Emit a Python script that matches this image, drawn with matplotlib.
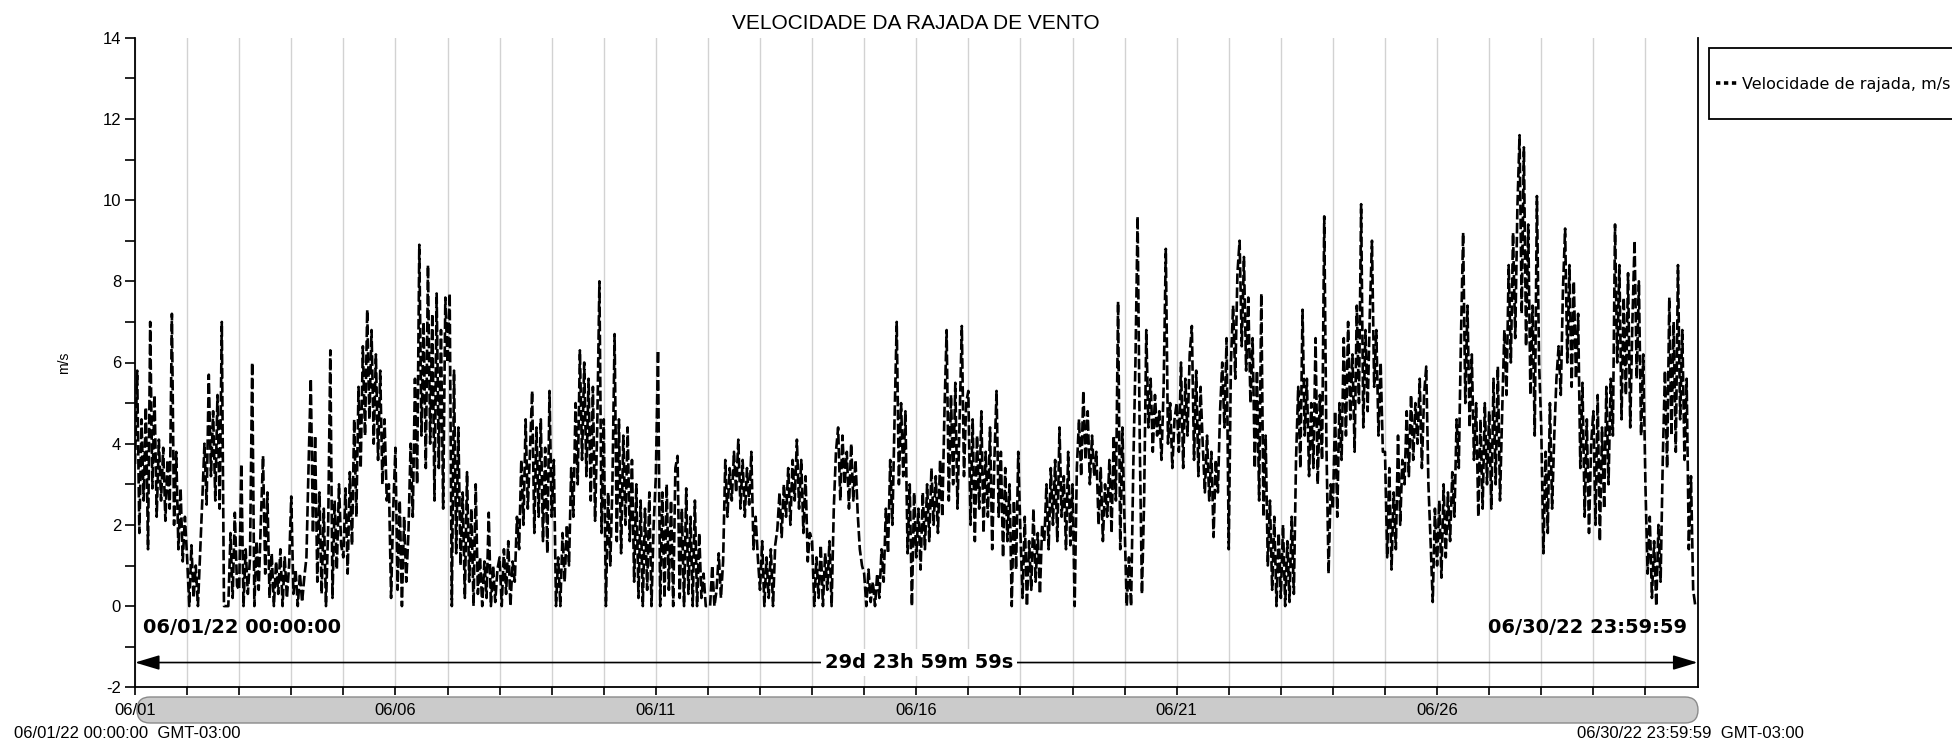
import numpy as np
import matplotlib
matplotlib.use("Agg")
import matplotlib.pyplot as plt
from matplotlib.patches import FancyBboxPatch, Rectangle
from matplotlib.transforms import IdentityTransform
from matplotlib.lines import Line2D

# ---- data: hourly wind-gust speed (m/s), June 2022 ----
jun01 = [3.5, 5.8, 1.8, 4.6, 2.6, 4.9, 1.4, 7.0, 2.9, 5.2, 2.2, 4.1, 2.6, 3.9, 2.1, 3.6, 2.4, 7.2, 2.0, 3.8, 1.4, 2.9, 1.1, 2.2]
jun02 = [1.2, 0.0, 1.5, 0.2, 1.0, 0.0, 1.3, 2.6, 4.0, 2.5, 5.7, 3.2, 4.8, 2.6, 5.2, 2.4, 7.0, 0.0, 0.0, 0.0, 1.8, 0.2, 2.3, 0.5]
jun03 = [0.4, 3.5, 0.0, 1.4, 0.3, 1.2, 6.0, 0.0, 1.6, 0.4, 2.1, 3.7, 0.8, 2.8, 0.2, 1.3, 0.0, 1.1, 0.3, 1.4, 0.0, 1.2, 0.2, 1.0]
jun04 = [2.7, 0.3, 0.9, 0.0, 0.8, 0.1, 0.7, 1.2, 3.5, 5.6, 1.8, 4.2, 0.6, 2.8, 0.3, 2.4, 0.0, 1.9, 6.3, 0.2, 2.6, 0.9, 3.0, 1.5]
jun05 = [1.2, 2.9, 0.8, 3.3, 1.5, 4.6, 2.2, 5.4, 3.4, 6.4, 4.2, 7.3, 4.6, 6.8, 4.0, 6.2, 3.6, 5.8, 3.0, 4.6, 2.6, 3.0, 0.2, 2.4]
jun06 = [3.9, 0.4, 2.6, 0.0, 2.2, 0.6, 1.8, 4.0, 2.2, 5.6, 3.0, 8.9, 4.2, 7.0, 3.4, 8.4, 4.0, 7.2, 2.6, 7.7, 3.4, 6.8, 2.4, 7.6]
jun07 = [6.0, 7.7, 0.0, 5.8, 1.3, 4.4, 1.0, 2.8, 0.2, 3.3, 0.6, 2.4, 0.0, 3.0, 0.3, 1.2, 0.0, 1.1, 0.2, 2.3, 0.0, 1.0, 0.1, 0.9]
jun08 = [1.2, 0.0, 1.4, 0.3, 1.6, 0.0, 1.1, 0.6, 2.2, 1.4, 3.6, 2.0, 4.6, 2.4, 3.8, 5.3, 1.8, 4.4, 2.2, 4.6, 1.6, 3.9, 1.3, 5.3]
jun09 = [2.2, 3.6, 0.0, 1.2, 0.0, 1.8, 0.6, 2.0, 1.0, 3.4, 2.2, 5.0, 3.0, 6.3, 3.6, 6.0, 3.2, 5.6, 2.6, 5.4, 2.1, 4.4, 8.0, 1.8]
jun10 = [4.6, 0.0, 2.8, 1.0, 3.0, 6.7, 1.6, 4.6, 1.3, 4.2, 2.0, 4.4, 1.6, 3.6, 0.6, 3.0, 0.2, 2.6, 0.0, 2.4, 0.4, 2.8, 0.0, 2.0]
jun11 = [3.2, 6.3, 0.0, 2.8, 0.2, 3.0, 0.4, 2.6, 0.0, 3.4, 3.7, 0.2, 2.4, 0.0, 2.9, 0.3, 2.2, 0.0, 2.6, 0.0, 1.8, 0.2, 0.8, 0.0]
jun12 = [0.0, 0.0, 1.0, 0.0, 0.4, 1.3, 0.2, 1.1, 3.6, 2.2, 3.4, 2.6, 3.8, 2.8, 4.1, 2.4, 3.6, 2.2, 3.4, 2.5, 3.8, 1.4, 2.2, 1.2]
jun13 = [0.4, 1.6, 0.0, 1.2, 0.2, 1.4, 0.0, 1.5, 1.9, 2.8, 1.7, 3.0, 2.2, 3.4, 2.0, 3.6, 2.6, 4.1, 2.4, 3.6, 1.8, 3.2, 1.1, 1.8]
jun14 = [1.6, 0.0, 1.2, 0.2, 1.5, 0.0, 1.3, 0.4, 1.6, 0.0, 2.4, 3.8, 4.4, 2.6, 4.2, 3.0, 3.8, 2.4, 4.0, 2.6, 3.6, 2.3, 1.4, 1.0]
jun15 = [0.8, 0.0, 0.9, 0.1, 0.6, 0.0, 0.8, 0.2, 1.4, 0.6, 2.4, 1.3, 3.6, 2.0, 4.6, 7.0, 3.0, 5.0, 3.2, 4.8, 1.3, 3.0, 0.0, 2.8]
jun16 = [1.2, 2.4, 0.9, 2.8, 1.4, 3.0, 1.6, 3.4, 2.0, 3.2, 1.8, 3.6, 2.2, 4.8, 6.8, 2.6, 5.2, 3.0, 5.5, 2.4, 4.6, 6.9, 3.2, 5.0]
jun17 = [5.3, 2.0, 4.6, 1.6, 4.2, 2.4, 4.8, 1.8, 3.8, 2.2, 4.4, 1.4, 3.6, 5.3, 2.2, 3.8, 1.2, 3.4, 1.6, 3.0, 0.0, 2.6, 0.9, 3.8]
jun18 = [1.8, 0.2, 2.2, 0.0, 1.6, 0.4, 2.4, 0.6, 1.8, 0.3, 2.0, 1.6, 3.0, 1.4, 3.4, 2.0, 3.6, 1.6, 4.4, 2.2, 3.2, 1.4, 3.8, 1.5]
jun19 = [3.0, 0.0, 3.4, 4.6, 3.2, 5.3, 3.6, 4.8, 3.0, 4.2, 3.2, 3.8, 2.0, 3.4, 1.6, 3.0, 2.2, 3.6, 1.8, 4.2, 2.6, 7.5, 1.4, 4.4]
jun20 = [2.0, 0.0, 1.2, 0.0, 3.4, 6.0, 9.6, 4.0, 0.3, 2.6, 6.8, 4.4, 5.6, 3.8, 5.2, 4.2, 4.8, 3.6, 5.4, 8.8, 4.0, 5.0, 3.4, 4.6]
jun21 = [5.0, 3.8, 6.0, 3.4, 5.6, 4.2, 6.2, 6.9, 3.6, 5.8, 3.2, 5.4, 4.0, 2.8, 4.2, 2.6, 3.8, 1.7, 3.6, 2.8, 4.8, 6.0, 4.4, 6.6]
jun22 = [1.4, 6.0, 7.4, 5.6, 8.2, 9.0, 6.4, 8.6, 5.8, 7.6, 5.0, 6.6, 3.4, 5.8, 2.6, 7.7, 2.2, 4.2, 1.0, 2.6, 0.4, 2.2, 0.0, 1.8]
jun23 = [0.2, 2.0, 0.0, 1.6, 0.1, 2.2, 0.3, 3.6, 5.4, 3.4, 7.3, 4.2, 5.6, 3.2, 5.0, 3.4, 6.6, 3.0, 5.2, 3.6, 9.6, 4.0, 0.8, 3.0]
jun24 = [2.4, 4.8, 2.2, 5.0, 3.6, 6.6, 4.2, 7.0, 4.6, 6.2, 3.8, 7.4, 5.0, 9.9, 4.4, 6.8, 4.8, 7.2, 9.0, 5.4, 6.8, 4.2, 6.0, 3.8]
jun25 = [3.8, 1.2, 3.4, 0.9, 2.8, 1.4, 4.2, 2.0, 3.6, 3.0, 4.8, 3.2, 5.2, 3.6, 5.0, 4.0, 5.6, 3.4, 5.2, 5.9, 3.0, 1.6, 0.1, 2.4]
jun26 = [1.0, 2.6, 0.7, 3.0, 1.2, 2.8, 1.6, 3.3, 2.2, 4.6, 3.4, 6.6, 9.2, 5.0, 7.4, 4.4, 6.2, 3.6, 5.0, 2.2, 4.6, 2.4, 5.0, 3.0]
jun27 = [4.8, 2.4, 5.6, 3.0, 5.9, 2.6, 4.8, 6.8, 5.2, 8.4, 6.0, 9.2, 6.6, 9.8, 11.6, 7.2, 11.3, 6.4, 9.4, 5.2, 7.4, 4.2, 10.1, 6.0]
jun28 = [4.4, 1.3, 3.8, 1.8, 5.0, 2.4, 4.2, 5.6, 6.4, 5.2, 7.8, 9.3, 6.0, 8.4, 5.4, 8.0, 5.6, 7.2, 3.4, 5.5, 2.2, 4.6, 1.8, 4.0]
jun29 = [4.8, 2.0, 5.2, 1.6, 4.4, 2.4, 5.4, 3.0, 5.6, 4.2, 9.4, 6.0, 8.4, 4.6, 7.6, 5.2, 8.2, 4.4, 7.0, 9.0, 5.6, 8.0, 4.2, 6.2]
jun30 = [3.0, 0.8, 2.2, 0.2, 1.6, 0.0, 2.0, 0.6, 3.6, 5.8, 3.4, 7.6, 4.2, 7.0, 3.8, 8.4, 4.6, 6.8, 3.6, 5.6, 1.4, 3.2, 0.4, 0.0]

days = [jun01, jun02, jun03, jun04, jun05, jun06, jun07, jun08, jun09, jun10,
        jun11, jun12, jun13, jun14, jun15, jun16, jun17, jun18, jun19, jun20,
        jun21, jun22, jun23, jun24, jun25, jun26, jun27, jun28, jun29, jun30]
gust = np.concatenate([np.asarray(d, dtype=float) for d in days])
t_days = np.arange(len(gust)) / 24.0          # days since 06/01/22 00:00

tick_days = [0, 5, 10, 15, 20, 25]
tick_labels = ["06/01", "06/06", "06/11", "06/16", "06/21", "06/26"]
y_ticks = [-2, 0, 2, 4, 6, 8, 10, 12, 14]

title = "VELOCIDADE DA RAJADA DE VENTO"
series_name = "Velocidade de rajada, m/s"
start_txt = "06/01/22 00:00:00"
end_txt = "06/30/22 23:59:59"
span_txt = "29d 23h 59m 59s"

# ---- figure ----
W, H = 1952, 741
fig = plt.figure(figsize=(W / 100, H / 100), dpi=100)
ax = fig.add_axes([135 / W, 1 - 687.3 / H, (1697.5 - 135) / W, (687.3 - 37.7) / H])

line, = ax.plot(t_days, gust, color="black", lw=1.9, linestyle=(0, (4, 1.3)),
                dash_capstyle="butt", zorder=3)

ax.set_xlim(0, 30)
ax.set_ylim(-2, 14)

# spines
ax.spines["top"].set_visible(False)
for s in ("left", "bottom", "right"):
    ax.spines[s].set_linewidth(1.3)
    ax.spines[s].set_color("black")

# x ticks: every day, labels every 5 days
all_days = list(range(0, 30))
ax.set_xticks(all_days)
lab = [""] * len(all_days)
for d, l in zip(tick_days, tick_labels):
    lab[d] = l
ax.set_xticklabels(lab, fontsize=12, family="Liberation Sans")
ax.tick_params(axis="x", direction="out", length=6, width=1.2, pad=5)
ax.grid(axis="x", color="#d2d2d2", lw=1.0, zorder=0)

# y ticks
ax.set_yticks(y_ticks)
ax.set_yticklabels([str(v) for v in y_ticks], fontsize=12, family="Liberation Sans")
ax.set_yticks(np.arange(-1, 14, 2), minor=True)
ax.tick_params(axis="y", which="both", direction="out", length=7, width=1.2, pad=3)
ax.set_ylabel("m/s", fontsize=10, family="Liberation Sans")
ax.yaxis.set_label_coords(-0.041, 0.5)

# title
fig.text(916 / W, 1 - 23.5 / H, title, ha="center", va="center",
         fontsize=15, family="Liberation Sans")

# start / end annotations
ytr = ax.get_yaxis_transform()
ax.text(0.005, -0.53, start_txt, transform=ytr, ha="left", va="center",
        fontsize=14, fontweight="bold", family="DejaVu Sans", zorder=5)
ax.text(0.9936, -0.53, end_txt, transform=ytr, ha="right", va="center",
        fontsize=14, fontweight="bold", family="DejaVu Sans", zorder=5)

# span arrow
ax.annotate("", xy=(0.0, -1.39), xytext=(30.0, -1.39),
            arrowprops=dict(arrowstyle="<|-|>,head_length=1.0,head_width=0.3",
                            color="black", lw=1.2, mutation_scale=15,
                            shrinkA=0, shrinkB=0), zorder=4)
ax.text(15.05, -1.39, span_txt, ha="center", va="center", fontsize=14,
        fontweight="bold", family="DejaVu Sans", zorder=6,
        bbox=dict(boxstyle="square,pad=0.2", fc="white", ec="none"))

# scroll bar under the axis
bar = FancyBboxPatch((137, H - 723), 1561, 26, boxstyle="round,pad=0,rounding_size=13",
                     transform=IdentityTransform(), fc="#cbcbcb", ec="#8a8a8a",
                     lw=1.0, zorder=-1)
fig.add_artist(bar)

# bottom date range texts
fig.text(14 / W, 1 - 733.5 / H, start_txt + "  GMT-03:00", ha="left", va="center",
         fontsize=12, family="Liberation Sans")
fig.text(1577 / W, 1 - 733.5 / H, end_txt + "  GMT-03:00", ha="left", va="center",
         fontsize=12, family="Liberation Sans")

# legend box (runs off the right edge, as in the original)
box = Rectangle((1709, H - 119), 320, 71, transform=IdentityTransform(),
                fc="white", ec="black", lw=1.3, zorder=2)
fig.add_artist(box)
handle = Line2D([], [], color="black", lw=2.6, linestyle=(0, (1.2, 1.0)),
                dash_capstyle="butt")
leg = fig.legend([handle], [series_name], loc="center left",
                 bbox_to_anchor=(1716 / W, 1 - 84 / H), frameon=False,
                 prop=dict(family="DejaVu Sans", size=11.5), handlelength=1.45,
                 handletextpad=0.2, borderpad=0.0, borderaxespad=0)
leg.set_zorder(3)

fig.savefig("out.png", dpi=100)
